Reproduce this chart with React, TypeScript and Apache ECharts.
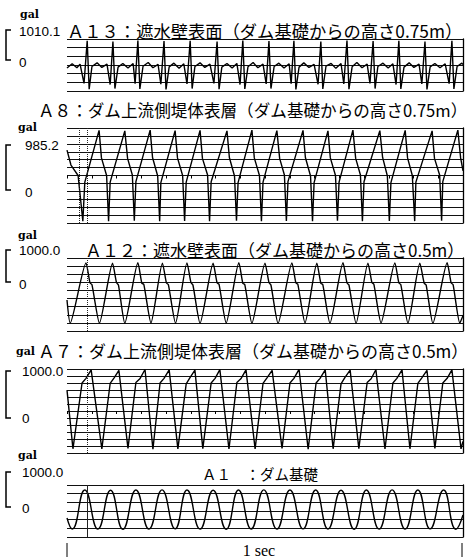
import React, { useEffect, useRef } from "react";
import * as echarts from "echarts";

// ---- Data (time in seconds over the 1 sec window, acceleration in gal) ----
const A13_T = [0, 0.013, 0.025, 0.033,
  0.043, 0.051, 0.056, 0.063, 0.076, 0.088, 0.101,
  0.109, 0.116, 0.121, 0.129, 0.141, 0.154, 0.167,
  0.172, 0.179, 0.184, 0.192, 0.205, 0.217, 0.230,
  0.237, 0.245, 0.250, 0.258, 0.270, 0.283, 0.295,
  0.303, 0.311, 0.316, 0.323, 0.336, 0.348, 0.361,
  0.371, 0.379, 0.384, 0.391, 0.404, 0.417, 0.429,
  0.437, 0.444, 0.449, 0.457, 0.470, 0.482, 0.495,
  0.503, 0.510, 0.515, 0.523, 0.535, 0.548, 0.561,
  0.566, 0.573, 0.578, 0.586, 0.598, 0.611, 0.624,
  0.634, 0.641, 0.646, 0.654, 0.667, 0.679, 0.692,
  0.699, 0.707, 0.712, 0.720, 0.732, 0.745, 0.758,
  0.765, 0.773, 0.778, 0.785, 0.798, 0.811, 0.823,
  0.831, 0.838, 0.843, 0.851, 0.864, 0.876, 0.889,
  0.896, 0.904, 0.909, 0.917, 0.929, 0.942, 0.955,
  0.965, 0.972, 0.977, 0.985, 0.997, 1.0];
const A13_V = [-100, 40, -90, 30,
  -600, 790, -790, -50, 70, -80, 30,
  -640, 770, -770, -70, 50, -100, 50,
  -610, 800, -780, -40, 80, -90, 20,
  -630, 780, -800, -60, 60, -110, 40,
  -620, 790, -770, -50, 70, -80, 30,
  -600, 770, -790, -70, 50, -100, 50,
  -640, 800, -780, -60, 80, -90, 30,
  -620, 780, -770, -50, 60, -100, 40,
  -610, 790, -800, -70, 70, -80, 20,
  -630, 770, -780, -40, 50, -110, 50,
  -620, 800, -790, -60, 80, -90, 30,
  -600, 780, -770, -50, 60, -100, 40,
  -640, 790, -780, -70, 70, -80, 30,
  -620, 770, -800, -60, 50, -90, 40,
  -610, 790, -780, -50, 60, 20];

const A8_T = [0, 0.010, 0.028, 0.040, 0.045,
  0.081, 0.087, 0.100, 0.105, 0.109,
  0.146, 0.153, 0.165, 0.170, 0.174,
  0.210, 0.216, 0.229, 0.234, 0.237,
  0.273, 0.279, 0.292, 0.297, 0.301,
  0.336, 0.342, 0.355, 0.360, 0.364,
  0.404, 0.410, 0.423, 0.428, 0.432,
  0.467, 0.473, 0.486, 0.491, 0.495,
  0.530, 0.537, 0.549, 0.554, 0.558,
  0.596, 0.602, 0.615, 0.620, 0.624,
  0.659, 0.665, 0.678, 0.683, 0.687,
  0.722, 0.729, 0.741, 0.746, 0.750,
  0.790, 0.797, 0.809, 0.814, 0.818,
  0.854, 0.860, 0.872, 0.878, 0.881,
  0.922, 0.928, 0.941, 0.946, 0.949,
  0.987, 0.994, 1.0];
const A8_V = [535, 220, 0, -960, -140,
  950, 370, 0, -960, -140,
  940, 360, 10, -950, -130,
  955, 380, -10, -965, -150,
  945, 370, 0, -955, -140,
  950, 360, 10, -960, -130,
  940, 380, -10, -950, -150,
  955, 370, 0, -965, -140,
  945, 360, 10, -955, -130,
  950, 380, -10, -960, -150,
  940, 370, 0, -950, -140,
  955, 360, 10, -965, -130,
  945, 380, -10, -955, -150,
  950, 370, 0, -960, -140,
  940, 360, 10, -950, -130,
  955, 370, 100];

const A12_T = [0, 0.008,
  0.048, 0.058, 0.063, 0.082,
  0.115, 0.125, 0.130, 0.146,
  0.179, 0.189, 0.194, 0.212,
  0.241, 0.251, 0.256, 0.274,
  0.303, 0.313, 0.318, 0.336,
  0.369, 0.379, 0.384, 0.402,
  0.434, 0.444, 0.449, 0.467,
  0.500, 0.510, 0.515, 0.533,
  0.568, 0.578, 0.583, 0.601,
  0.631, 0.641, 0.646, 0.664,
  0.697, 0.707, 0.712, 0.730,
  0.760, 0.770, 0.775, 0.793,
  0.828, 0.838, 0.843, 0.861,
  0.891, 0.902, 0.907, 0.924,
  0.960, 0.970, 0.975, 0.992,
  1.0];
const A12_V = [-157, -815,
  900, 330, 280, -815,
  890, 340, 270, -820,
  905, 320, 290, -810,
  895, 330, 280, -815,
  900, 340, 270, -820,
  890, 330, 290, -810,
  905, 320, 280, -815,
  895, 340, 270, -820,
  900, 330, 290, -810,
  890, 320, 280, -815,
  905, 330, 270, -820,
  895, 340, 290, -810,
  900, 330, 280, -815,
  890, 320, 270, -820,
  905, 330, 280, -815,
  -600];

const A7_T = [0, 0.015,
  0.038, 0.048, 0.061, 0.088,
  0.109, 0.119, 0.131, 0.154,
  0.174, 0.184, 0.197, 0.217,
  0.235, 0.245, 0.258, 0.280,
  0.301, 0.311, 0.323, 0.343,
  0.364, 0.374, 0.386, 0.409,
  0.429, 0.439, 0.452, 0.475,
  0.495, 0.505, 0.518, 0.543,
  0.563, 0.573, 0.586, 0.609,
  0.629, 0.639, 0.652, 0.672,
  0.692, 0.702, 0.715, 0.737,
  0.758, 0.768, 0.780, 0.803,
  0.823, 0.833, 0.846, 0.866,
  0.886, 0.896, 0.909, 0.929,
  0.949, 0.960, 0.972, 0.995,
  1.0];
const A7_V = [447, -810,
  600, 700, 880, -810,
  590, 710, 870, -800,
  610, 690, 890, -820,
  600, 700, 880, -810,
  580, 720, 875, -805,
  600, 700, 885, -815,
  610, 690, 880, -810,
  590, 710, 870, -800,
  600, 700, 890, -820,
  600, 700, 880, -810,
  580, 720, 875, -805,
  610, 690, 885, -815,
  600, 700, 880, -810,
  590, 710, 870, -800,
  600, 700, 880, -810,
  -650];

const A1_T = [0, 0.013, 0.045, 0.078, 0.110, 0.141, 0.174, 0.207, 0.240, 0.273,
  0.303, 0.336, 0.369, 0.402, 0.433, 0.465, 0.497, 0.530, 0.563, 0.596, 0.628,
  0.659, 0.692, 0.725, 0.756, 0.788, 0.821, 0.854, 0.886, 0.917, 0.951, 0.982, 1.0];
const A1_V = [-195, -500, 580, -500, 575, -505, 580, -500, 585, -495, 580, -500,
  575, -505, 580, -500, 585, -500, 580, -495, 580, -500, 575, -505, 580, -500,
  585, -500, 580, -495, 580, -505, -110];

const TITLES = [
  "Ａ１３：遮水壁表面（ダム基礎からの高さ0.75m）",
  "Ａ８：ダム上流側堤体表層（ダム基礎からの高さ0.75m）",
  "Ａ１２：遮水壁表面（ダム基礎からの高さ0.5m）",
  "Ａ７：ダム上流側堤体表層（ダム基礎からの高さ0.5m）",
  "Ａ１　：ダム基礎",
];
const SCALE_LABELS = ["1010.1", "985.2", "1000.0", "1000.0", "1000.0"];
const UNIT = "gal";
const TIME_LABEL = "1 sec";

// ---- Layout ----
const PANELS = [
  { t: A13_T, v: A13_V, top: 39, height: 52, range: 850, lines: 6, smooth: false, ticks: false, marks: [] as number[], markType: "dotted" },
  { t: A8_T, v: A8_V, top: 128, height: 95, range: 1000, lines: 12, smooth: false, ticks: true, marks: [0.033, 0.053], markType: "dotted" },
  { t: A12_T, v: A12_V, top: 258, height: 73, range: 1040, lines: 9, smooth: 0.2, ticks: false, marks: [0.053], markType: "dotted" },
  { t: A7_T, v: A7_V, top: 369, height: 84, range: 900, lines: 12, smooth: false, ticks: true, marks: [0.053], markType: "dotted" },
  { t: A1_T, v: A1_V, top: 485, height: 52, range: 720, lines: 6, smooth: 0.5, ticks: false, marks: [0.05], markType: "solid" },
];

const LABEL_POS = [
  { gal: [20, 14], num: [19, 31], zero: [19, 62], title: [67, 30, 17.3], br: [30, 60] },
  { gal: [18, 127], num: [25, 145], zero: [25, 192], title: [38, 110, 16.6], br: [145, 190] },
  { gal: [18, 235], num: [19, 250], zero: [19, 284], title: [85, 249, 17], br: [250, 282] },
  { gal: [16, 351], num: [22, 371], zero: [22, 418], title: [38, 350, 17], br: [371, 418] },
  { gal: [18, 455], num: [22, 472], zero: [22, 508], title: [202, 473, 14.5], br: [472, 507] },
];

const LEFT = 67;
const RIGHT = 6;

function txt(text: string, x: number, y: number, font: string, align = "left") {
  return {
    type: "text",
    x,
    y,
    silent: true,
    style: { text, font, fill: "#000", textAlign: align, textVerticalAlign: "middle", verticalAlign: "middle" },
  };
}

export default function App() {
  const ref = useRef<HTMLDivElement>(null);
  useEffect(() => {
    if (!ref.current) return;
    const chart = echarts.init(ref.current, null, { renderer: "svg" });

    const grid: any[] = [];
    const xAxis: any[] = [];
    const yAxis: any[] = [];
    const series: any[] = [];
    const graphic: any[] = [];

    PANELS.forEach((p, i) => {
      grid.push({ left: LEFT, right: RIGHT, top: p.top, height: p.height });
      xAxis.push({
        type: "value", gridIndex: i, min: 0, max: 1, interval: 0.0625,
        axisLine: { show: false },
        axisLabel: { show: false },
        splitLine: { show: false },
        axisTick: { show: p.ticks, length: 3, lineStyle: { color: "#000", width: 1 } },
      });
      yAxis.push({
        type: "value", gridIndex: i, min: -p.range, max: p.range,
        axisLine: { show: false }, axisLabel: { show: false }, axisTick: { show: false },
        splitLine: { show: false },
      });
      yAxis.push({
        type: "value", gridIndex: i, min: 0, max: p.lines, interval: 1, position: "right",
        axisLine: { show: true, lineStyle: { color: "#000", width: 1.3 } },
        axisLabel: { show: false }, axisTick: { show: false },
        splitLine: { show: true, lineStyle: { color: "#111", width: 1 } },
      });
      series.push({
        type: "line",
        xAxisIndex: i,
        yAxisIndex: 2 * i,
        data: p.t.map((t, k) => [t, p.v[k]]),
        showSymbol: false,
        symbol: "none",
        smooth: p.smooth,
        lineStyle: { color: "#000", width: 1.4 },
        silent: true,
        markLine: p.marks.length
          ? {
              silent: true,
              symbol: ["none", "none"],
              label: { show: false },
              lineStyle: { color: "#222", width: 1, type: p.markType },
              data: p.marks.map((m) => ({ xAxis: m })),
            }
          : undefined,
      });

      const lp = LABEL_POS[i];
      graphic.push(txt(UNIT, lp.gal[0], lp.gal[1], 'bold 11px "DejaVu Serif"'));
      graphic.push(txt(SCALE_LABELS[i], lp.num[0], lp.num[1], '13.5px "Liberation Sans"'));
      graphic.push(txt("0", lp.zero[0], lp.zero[1], '13.5px "Liberation Sans"'));
      graphic.push(txt(TITLES[i], lp.title[0], lp.title[1], `${lp.title[2]}px "Noto Sans CJK JP"`));
      graphic.push({
        type: "polyline",
        silent: true,
        shape: { points: [[11, lp.br[0]], [6, lp.br[0]], [6, lp.br[1]], [11, lp.br[1]]] },
        style: { stroke: "#000", lineWidth: 1.5, fill: "none" },
      });
    });

    graphic.push(txt(TIME_LABEL, 259, 550, '16px "Liberation Serif"', "center"));
    graphic.push({ type: "line", silent: true, shape: { x1: 67, y1: 543, x2: 67, y2: 557 }, style: { stroke: "#000", lineWidth: 1 } });
    graphic.push({ type: "line", silent: true, shape: { x1: 462, y1: 543, x2: 462, y2: 557 }, style: { stroke: "#000", lineWidth: 1 } });

    chart.setOption({
      animation: false,
      backgroundColor: "#fff",
      grid,
      xAxis,
      yAxis,
      series,
      graphic,
    });
    return () => chart.dispose();
  }, []);

  return (
    <div
      ref={ref}
      style={{ position: "fixed", left: 0, top: 0, width: 469, height: 559, background: "#fff" }}
    />
  );
}
